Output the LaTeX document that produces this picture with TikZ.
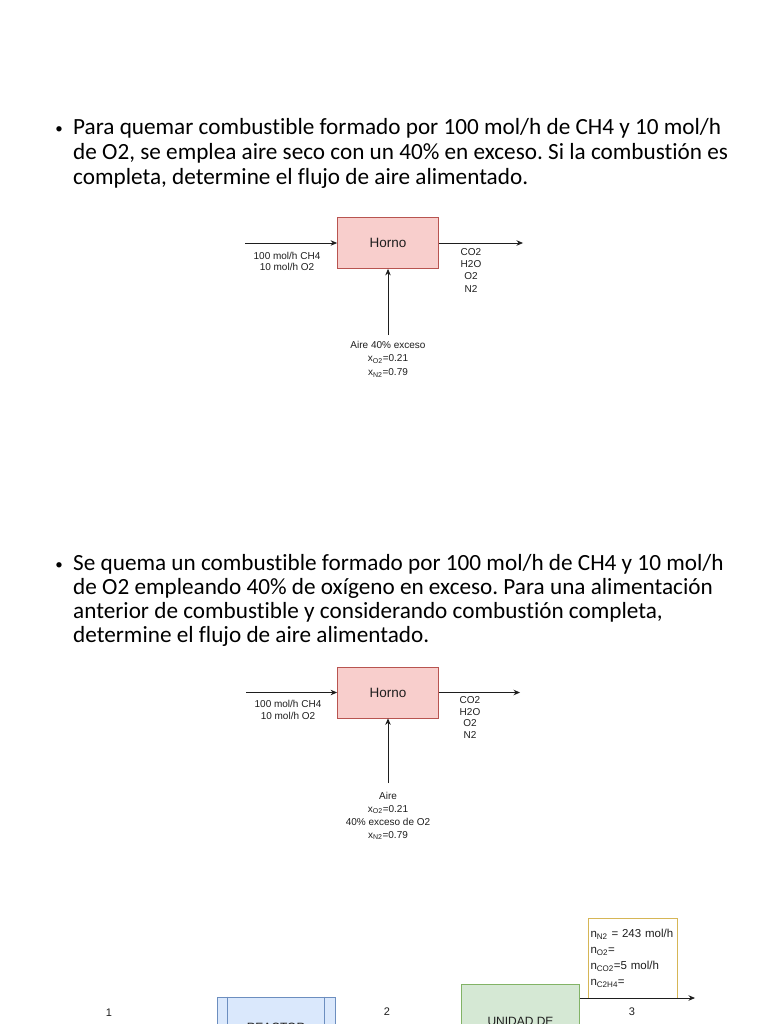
\documentclass[tikz,border=0pt]{standalone}
\usepackage{fontspec}
\setmainfont{Carlito}[Ligatures=NoCommon]
\setsansfont{Liberation Sans}
\usetikzlibrary{arrows.meta,positioning}
\frenchspacing
\definecolor{hornofill}{RGB}{248,206,204}
\definecolor{hornoline}{RGB}{184,84,80}
\definecolor{reacfill}{RGB}{218,232,252}
\definecolor{reacline}{RGB}{108,142,191}
\definecolor{sepfill}{RGB}{213,232,212}
\definecolor{sepline}{RGB}{130,179,102}
\definecolor{tabline}{RGB}{214,182,86}
\definecolor{flowgrey}{RGB}{30,30,30}
\definecolor{textgrey}{RGB}{30,30,30}

\begin{document}
\begin{tikzpicture}[x=1pt, y=-1pt,
    problem/.style={anchor=north west, inner sep=0pt, align=left, font=\fontsize{23.2}{25}\selectfont},
    bulletsym/.style={inner sep=0pt, font=\fontsize{15}{15}\selectfont},
    horno/.style={rectangle, draw=hornoline, fill=hornofill, line width=0.8pt,
                  minimum width=101pt, minimum height=51pt, inner sep=0pt,
                  font=\sffamily\fontsize{13.5}{16}\selectfont, text=textgrey},
    lbl/.style={inner sep=0pt, align=center, anchor=north, text=textgrey,
                font=\sffamily\fontsize{10}{12}\selectfont},
    unitbox/.style={rectangle, line width=0.8pt, inner sep=0pt},
    flow/.style={-{Stealth[length=6.5pt,width=5.5pt]}, line width=0.8pt, flowgrey}]
\useasboundingbox (0,0) rectangle (768,1024);
\clip (0,0) rectangle (768,1024);

% first statement
\node[bulletsym] (dot1) at (59,130) {•};
\node[problem] (text1) at (73,118) {Para quemar combustible formado por 100 mol/h de CH4 y 10 mol/h\\
de O2, se emplea aire seco con un 40\% en exceso. Si la combustión es\\
completa, determine el flujo de aire alimentado.};

% first furnace
\node[horno] (horno1) at (388,243) {Horno};
\coordinate (feed1) at (245,243);
\coordinate (gas1) at (523,243);
\coordinate (air1) at (388,335);
\draw[flow] (feed1) -- (horno1.west);
\draw[flow] (horno1.east) -- (gas1);
\draw[flow] (air1) -- (horno1.south);
\node[lbl, font=\sffamily\fontsize{10}{11}\selectfont] (feedlbl1) at (287,252) {100 mol/h CH4\\10 mol/h O2};
\node[lbl, font=\sffamily\fontsize{10}{12.3}\selectfont] (gaslbl1) at (471,248) {CO2\\H2O\\O2\\N2};
\node[lbl] (airlbl1) at (388,341.5) {Aire 40\% exceso\\[1pt]x\textsubscript{O2}=0.21\\[2pt]x\textsubscript{N2}=0.79};

% second statement
\node[bulletsym] (dot2) at (59,566) {•};
\node[problem, font=\fontsize{23.2}{24}\selectfont] (text2) at (73,554) {Se quema un combustible formado por 100 mol/h de CH4 y 10 mol/h\\
de O2 empleando 40\% de oxígeno en exceso. Para una alimentación\\
anterior de combustible y considerando combustión completa,\\
determine el flujo de aire alimentado.};

% second furnace
\node[horno] (horno2) at (388,692.5) {Horno};
\coordinate (feed2) at (246,692.5);
\coordinate (gas2) at (520,692.5);
\coordinate (air2) at (388,783);
\draw[flow] (feed2) -- (horno2.west);
\draw[flow] (horno2.east) -- (gas2);
\draw[flow] (air2) -- (horno2.south);
\node[lbl, font=\sffamily\fontsize{10}{11.5}\selectfont] (feedlbl2) at (288,700.5) {100 mol/h CH4\\10 mol/h O2};
\node[lbl, font=\sffamily\fontsize{10}{11.5}\selectfont] (gaslbl2) at (470,696.5) {CO2\\H2O\\O2\\N2};
\node[lbl] (airlbl2) at (388,792) {Aire\\[1pt]x\textsubscript{O2}=0.21\\[1pt]40\% exceso de O2\\[1pt]x\textsubscript{N2}=0.79};

% process at the foot of the page
\node[unitbox, draw=reacline, fill=reacfill, minimum width=118pt, minimum height=62pt] (reac) at (276,1028) {};
\draw[reacline, line width=0.8pt] ([xshift=11pt]reac.north west) -- ([xshift=11pt]reac.south west);
\draw[reacline, line width=0.8pt] ([xshift=-11pt]reac.north east) -- ([xshift=-11pt]reac.south east);
\node[lbl, anchor=center, font=\sffamily\fontsize{12}{14}\selectfont] (reactxt) at (276,1027) {REACTOR};
\node[unitbox, draw=sepline, fill=sepfill, minimum width=118pt, minimum height=88pt] (sep) at (520.5,1028) {};
\node[lbl, anchor=center, font=\sffamily\fontsize{12}{14}\selectfont] (septxt) at (520.5,1021) {UNIDAD DE};
\node[unitbox, draw=tabline, fill=white, text width=85pt, minimum height=80pt, inner sep=2pt, align=left,
      text=textgrey, font=\sffamily\fontsize{11.5}{16}\selectfont] (tab) at (633,958)
     {n\textsubscript{N2} = 243 mol/h\\n\textsubscript{O2}=\\n\textsubscript{CO2}=5 mol/h\\n\textsubscript{C2H4}=};
\coordinate (in1) at (75,1028);
\coordinate (prod) at (695,998);
\draw[flow] (in1) -- (reac.west);
\draw[flow] (reac.east) -- (sep.west);
\draw[flow] (sep.east |- prod) -- (prod);
\node[lbl, anchor=center, font=\sffamily\fontsize{11}{13}\selectfont] (s1) at (109,1013) {1};
\node[lbl, anchor=center, font=\sffamily\fontsize{11}{13}\selectfont] (s2) at (387,1012) {2};
\node[lbl, anchor=center, font=\sffamily\fontsize{11}{13}\selectfont] (s3) at (632,1012) {3};
\end{tikzpicture}
\end{document}
